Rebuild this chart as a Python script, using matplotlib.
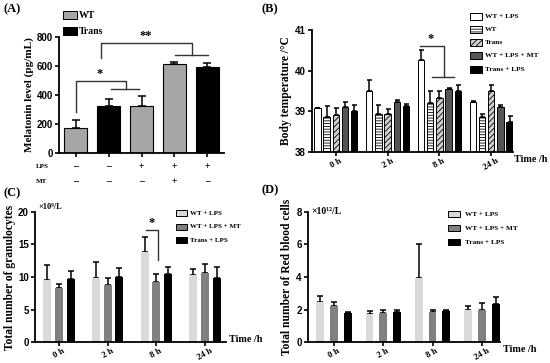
import matplotlib
matplotlib.use("Agg")
import matplotlib.pyplot as plt
import numpy as np
from matplotlib.patches import Rectangle

W, H = 550, 363
SERIF = ["Liberation Serif", "DejaVu Serif"]
SANS = ["Liberation Sans", "DejaVu Sans"]

# ---- panel A: melatonin ----
a_values = [175, 325, 325, 615, 590]
a_errors = [55, 45, 70, 10, 30]
a_colors = ["#a6a6a6", "#000000", "#a6a6a6", "#a6a6a6", "#000000"]
a_lps = ["\u2013", "\u2013", "+", "+", "+"]
a_mt = ["\u2013", "\u2013", "\u2013", "+", "\u2013"]

# ---- panel B: body temperature ----
times = ["0 h", "2 h", "8 h", "24 h"]
b_groups = ["WT + LPS", "WT", "Trans", "WT + LPS + MT", "Trans + LPS"]
b_values = [
    [39.07, 39.50, 40.27, 39.23],
    [38.87, 38.93, 39.20, 38.87],
    [38.90, 38.93, 39.33, 39.50],
    [39.10, 39.23, 39.55, 39.10],
    [39.00, 39.13, 39.50, 38.73],
]
b_errors = [
    [0.02, 0.28, 0.23, 0.02],
    [0.27, 0.23, 0.30, 0.06],
    [0.18, 0.12, 0.18, 0.15],
    [0.12, 0.06, 0.02, 0.05],
    [0.15, 0.05, 0.15, 0.15],
]

# ---- panels C / D ----
cd_groups = ["WT + LPS", "WT + LPS + MT", "Trans + LPS"]
c_values = [
    [9.5, 9.8, 13.9, 10.3],
    [8.3, 8.8, 9.3, 10.6],
    [9.7, 10.0, 10.5, 9.9],
]
c_errors = [
    [2.3, 2.5, 2.2, 0.9],
    [0.6, 1.0, 1.2, 1.4],
    [1.3, 1.4, 1.0, 1.6],
]
d_values = [
    [2.45, 1.75, 3.95, 2.00],
    [2.20, 1.80, 1.85, 2.00],
    [1.80, 1.85, 1.90, 2.35],
]
d_errors = [
    [0.40, 0.15, 2.05, 0.20],
    [0.25, 0.15, 0.10, 0.40],
    [0.03, 0.10, 0.05, 0.40],
]

b_styles = [
    dict(facecolor="white", hatch=None),
    dict(facecolor="white", hatch="------"),
    dict(facecolor="#d0d0d0", hatch="//////"),
    dict(facecolor="#555555", hatch=None),
    dict(facecolor="#000000", hatch=None),
]
cd_colors = ["#d9d9d9", "#808080", "#000000"]

plt.rcParams["hatch.linewidth"] = 0.6
plt.rcParams["hatch.color"] = "#333333"

fig = plt.figure(figsize=(W / 100, H / 100), dpi=100)


def add_ax(left, top, right, bottom):
    return fig.add_axes([left / W, 1 - bottom / H, (right - left) / W, (bottom - top) / H])


def style_ax(ax):
    for s in ["top", "right"]:
        ax.spines[s].set_visible(False)
    for s in ["left", "bottom"]:
        ax.spines[s].set_linewidth(1.3)
    ax.tick_params(direction="out", length=3, width=1.2, pad=1.5)
    ax.tick_params(axis="x", pad=0.5)
    for lab in ax.get_yticklabels():
        lab.set_family(SANS)
        lab.set_fontweight("bold")
        lab.set_fontsize(7)


def time_ticks(ax):
    ax.set_xticks(xg)
    ax.set_xticklabels(times, rotation=30, ha="center", family=SERIF,
                       fontweight="bold", fontsize=6.5)


def up_err(ax, x, y, e, cap=2.0):
    ax.errorbar(x, y, yerr=[np.zeros_like(np.asarray(e, float)), e], fmt="none",
                ecolor="black", elinewidth=1.1, capsize=cap, capthick=1.1, zorder=1)


def ptext(x, y, s, size, **kw):
    kw.setdefault("family", SERIF)
    kw.setdefault("fontweight", "bold")
    fig.text(x / W, 1 - y / H, s, fontsize=size, **kw)


def key(x, y, labels, styles, bw, bh, step, size, tx):
    for i, (lab, st) in enumerate(zip(labels, styles)):
        yy = y + i * step
        r = Rectangle((x / W, 1 - (yy + bh / 2) / H), bw / W, bh / H,
                      transform=fig.transFigure, edgecolor="black", linewidth=0.7,
                      facecolor=st.get("facecolor"), hatch=st.get("hatch"))
        fig.patches.append(r)
        ptext(tx, yy, lab, size, va="center")


# ---------------- A ----------------
axA = add_ax(59, 37, 224, 153)
xa = np.arange(len(a_values))
axA.bar(xa, a_values, width=0.7, color=a_colors, edgecolor="black", linewidth=0.8, zorder=2)
up_err(axA, xa, a_values, a_errors, cap=3)
axA.set_xlim(-0.5, 4.5)
axA.set_ylim(0, 800)
axA.set_yticks([0, 200, 400, 600, 800])
axA.set_xticks(xa)
axA.set_xticklabels([])
style_ax(axA)
axA.set_ylabel("Melatonin level (pg/mL)", family=SERIF, fontweight="bold", fontsize=8, labelpad=2)
# brackets
axA.plot([0, 0, 1.53, 1.53], [283, 497, 497, 441], color="#333333", lw=1, clip_on=False)
axA.plot([1.07, 1.92], [441, 441], color="#333333", lw=1, clip_on=False)
axA.text(0.74, 500, "*", ha="center", va="bottom", fontsize=9, fontweight="bold", family=SERIF)
axA.plot([0.76, 0.76, 3.53, 3.53], [655, 759, 759, 676], color="#333333", lw=1, clip_on=False)
axA.plot([3.02, 4.02], [676, 676], color="#333333", lw=1, clip_on=False)
axA.text(2.14, 765, "**", ha="center", va="bottom", fontsize=9, fontweight="bold", family=SERIF, clip_on=False)
ptext(36, 167, "LPS", 5, va="center")
ptext(36, 182, "MT", 5, va="center")
for i in range(len(a_values)):
    xpx = 59 + (i + 0.5) * 33
    ptext(xpx, 167, a_lps[i], 7, va="center", ha="center")
    ptext(xpx, 182, a_mt[i], 7, va="center", ha="center")
key(63, 15, ["WT", "Trans"], [dict(facecolor="#a6a6a6"), dict(facecolor="black")],
    14, 8, 16, 7, 79)
ptext(3, 9, "(A)", 9, va="center")

# ---------------- B ----------------
axB = add_ax(312, 30, 513, 152)
xg = np.arange(len(times))
bstep, bw = 0.178, 0.124
for k in range(len(b_groups)):
    xs = xg + (k - 2) * bstep
    axB.bar(xs, np.array(b_values[k]) - 38, bottom=38, width=bw, edgecolor="black",
            linewidth=0.7, zorder=2, **b_styles[k])
    up_err(axB, xs, b_values[k], b_errors[k], cap=1.8)
axB.set_xlim(-0.46, 3.42)
axB.set_ylim(38, 41)
axB.set_yticks([38, 39, 40, 41])
time_ticks(axB)
style_ax(axB)
axB.set_ylabel("Body temperature /\u00b0C", family=SERIF, fontweight="bold", fontsize=8.3, labelpad=2)
axB.plot([1.625, 2.08, 2.08], [40.61, 40.61, 39.84], color="#333333", lw=1, clip_on=False)
axB.plot([1.85, 2.28], [39.84, 39.84], color="#333333", lw=1, clip_on=False)
axB.text(1.82, 40.62, "*", ha="center", va="bottom", fontsize=9, fontweight="bold", family=SERIF)
ptext(514, 160, "Time /h", 7.3, va="center")
key(470, 16, b_groups, b_styles, 12, 7, 13.3, 5.3, 485)
ptext(262, 9, "(B)", 9, va="center")

# ---------------- C ----------------
axC = add_ax(35, 212, 226, 342)
cstep, cw = 0.24, 0.165
for k in range(len(cd_groups)):
    xs = xg + (k - 1) * cstep
    axC.bar(xs, c_values[k], width=cw, color=cd_colors[k], linewidth=0, zorder=2)
    up_err(axC, xs, c_values[k], c_errors[k], cap=2)
axC.set_xlim(-0.49, 3.43)
axC.set_ylim(0, 20)
axC.set_yticks([0, 5, 10, 15, 20])
time_ticks(axC)
style_ax(axC)
axC.set_ylabel("Total number of granulocytes", family=SERIF, fontweight="bold", fontsize=8.3, labelpad=1)
axC.plot([1.79, 2.03, 2.03], [17.2, 17.2, 12.6], color="#333333", lw=1)
axC.text(1.91, 17.4, "*", ha="center", va="bottom", fontsize=9, fontweight="bold", family=SERIF)
ptext(38, 207, "\u00d710\u2079/L", 6, va="center")
ptext(229, 340, "Time /h", 7.3, va="center")
key(176, 213, cd_groups, [dict(facecolor=c) for c in cd_colors], 11, 6, 13.5, 5, 190)
ptext(3, 193, "(C)", 9, va="center")

# ---------------- D ----------------
axD = add_ax(308, 212, 500, 342)
dstep, dw = 0.28, 0.16
for k in range(len(cd_groups)):
    xs = xg + (k - 1) * dstep
    axD.bar(xs, d_values[k], width=dw, color=cd_colors[k], linewidth=0, zorder=2)
    up_err(axD, xs, d_values[k], d_errors[k], cap=2)
axD.set_xlim(-0.53, 3.37)
axD.set_ylim(0, 8)
axD.set_yticks([0, 2, 4, 6, 8])
time_ticks(axD)
style_ax(axD)
axD.set_ylabel("Total number of Red blood cells", family=SERIF, fontweight="bold", fontsize=8.3, labelpad=2)
ptext(311, 211, "\u00d710\u00b9\u00b2/L", 7, va="center")
ptext(503, 350, "Time /h", 7.3, va="center")
key(448, 214, cd_groups, [dict(facecolor=c) for c in cd_colors], 12, 6, 14, 5.2, 465)
ptext(262, 190, "(D)", 9, va="center")

fig.savefig("out.png", dpi=100)
